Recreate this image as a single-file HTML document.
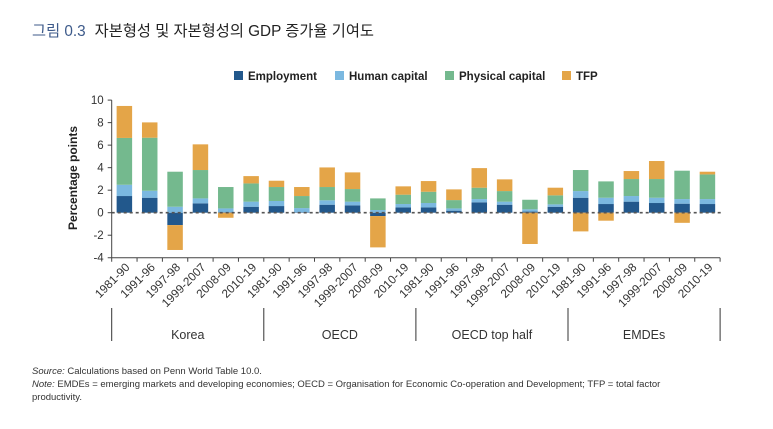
<!DOCTYPE html>
<html><head><meta charset="utf-8"><style>
body{margin:0;background:#fff;width:773px;height:424px;overflow:hidden;font-family:"Liberation Sans","Noto Sans CJK KR",sans-serif}
</style></head><body>
<svg width="773" height="424" xmlns="http://www.w3.org/2000/svg" font-family="Liberation Sans, Noto Sans CJK KR, sans-serif">
<text x="32" y="36" font-size="15.3" fill="#222"><tspan fill="#3d5a8a">그림 0.3</tspan><tspan dx="9">자본형성 및 자본형성의 GDP 증가율 기여도</tspan></text>
<g id="legend"></g>
<g id="plot"></g>
<text x="77" y="178" font-size="12" font-weight="bold" fill="#222" text-anchor="middle" transform="rotate(-90 77 178)">Percentage points</text>
<text x="32" y="374" font-size="9.5" fill="#333"><tspan font-style="italic">Source:</tspan> Calculations based on Penn World Table 10.0.</text>
<text x="32" y="387" font-size="9.5" fill="#333"><tspan font-style="italic">Note:</tspan> EMDEs = emerging markets and developing economies; OECD = Organisation for Economic Co-operation and Development; TFP = total factor</text>
<text x="32" y="400" font-size="9.5" fill="#333">productivity.</text>
</svg>
<script>
const groups=["Korea","OECD","OECD top half","EMDEs"];
const periods=["1981-90","1991-96","1997-98","1999-2007","2008-09","2010-19"];
const employment=[1.48,1.33,-1.1,0.83,0.05,0.53, 0.59,0.05,0.71,0.65,-0.3,0.47, 0.47,0.18,0.92,0.71,0.1,0.53, 1.33,0.77,0.98,0.86,0.8,0.77];
const humanCapital=[1.0,0.62,0.53,0.44,0.33,0.45, 0.45,0.36,0.39,0.33,0.24,0.3, 0.39,0.2,0.29,0.27,0.2,0.21, 0.59,0.56,0.5,0.47,0.41,0.44];
const physicalCapital=[4.16,4.71,3.11,2.52,1.9,1.62, 1.24,1.07,1.18,1.12,1.03,0.83, 1.0,0.74,1.01,0.94,0.85,0.8, 1.87,1.45,1.51,1.66,2.52,2.19];
const tfp=[2.84,1.36,-2.21,2.28,-0.45,0.65, 0.56,0.8,1.74,1.48,-2.78,0.74, 0.95,0.95,1.74,1.04,-2.78,0.68, -1.66,-0.71,0.71,1.6,-0.9,0.24];
const yTicks=[-4,-2,0,2,4,6,8,10];
const seriesNames=["Employment","Human capital","Physical capital","TFP"];
const colors=["#22588c","#7bb8e0","#74b98e","#e4a548"];
const NS="http://www.w3.org/2000/svg";
const x0=111.7,slot=25.35,bw=15.5;
const y=v=>212.7-v*11.26;
function mk(tag,at,par){const e=document.createElementNS(NS,tag);for(const k in at)e.setAttribute(k,at[k]);par.appendChild(e);return e;}
const plot=document.getElementById('plot');
const series=[employment,humanCapital,physicalCapital,tfp];
const n=employment.length;
for(let i=0;i<n;i++){
  let pos=0,neg=0;const cx=x0+slot*i+slot/2;
  for(let s=0;s<4;s++){
    const v=series[s][i];let a,b;
    if(v>=0){a=pos;b=pos+v;pos=b;}else{a=neg;b=neg+v;neg=b;}
    const r=mk('rect',{x:cx-bw/2,y:Math.min(y(a),y(b)),width:bw,height:Math.abs(y(a)-y(b)),fill:colors[s]},plot);
    
    
  }
}
const z=mk('line',{x1:x0,x2:x0+slot*n+2,y1:y(0),y2:y(0),stroke:'#555','stroke-width':1.6,'stroke-dasharray':'3,3'},plot);


const ya=mk('line',{x1:x0,x2:x0,y1:y(10),y2:y(-4),stroke:'#444'},plot);


const xa=mk('line',{x1:x0,x2:x0+slot*n,y1:y(-4),y2:y(-4),stroke:'#444'},plot);


yTicks.forEach(t=>{
  mk('line',{x1:x0-4,x2:x0,y1:y(t),y2:y(t),stroke:'#444'},plot);
  const tx=mk('text',{x:x0-8,y:y(t)+4,'font-size':11.5,'text-anchor':'end',fill:'#333'},plot);
  tx.textContent=t;
  
  
});
for(let i=0;i<=n;i++){
  const xx=x0+slot*i;
  mk('line',{x1:xx,x2:xx,y1:y(-4),y2:y(-4)+4,stroke:'#444'},plot);
  if(i%6===0){const l=mk('line',{x1:xx,x2:xx,y1:308,y2:341,stroke:'#333'},plot);
    
    }
}
for(let i=0;i<n;i++){
  const cx=x0+slot*i+slot/2+6;
  const t=mk('text',{x:cx,y:268,'font-size':11.8,'text-anchor':'end',fill:'#333',transform:`rotate(-45 ${cx} 268)`},plot);
  t.textContent=periods[i%6];
  
  
}
groups.forEach((g,k)=>{
  const t=mk('text',{x:x0+slot*(6*k+3),y:339,'font-size':12.5,'text-anchor':'middle',fill:'#333'},plot);
  t.textContent=g;
  
  
});
const lg=document.getElementById('legend');
const lx=[234,335,445,562];
seriesNames.forEach((s,k)=>{
  const r=mk('rect',{x:lx[k],y:71,width:9,height:9,fill:colors[k]},lg);
  
  
  const t=mk('text',{x:lx[k]+14,y:80,'font-size':11.5,'font-weight':'bold',fill:'#222'},lg);
  t.textContent=s;
  
  
});
</script>
</body></html>
